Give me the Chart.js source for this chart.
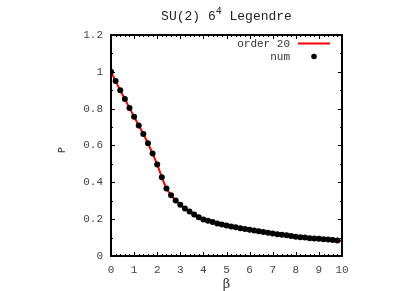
<!DOCTYPE html>
<html>
<head>
<meta charset="utf-8">
<script src="https://cdn.jsdelivr.net/npm/chart.js@4"></script>
<style>
html,body{margin:0;padding:0;background:#fff;}
#wrap{width:415px;height:291px;position:relative;}
</style>
</head>
<body>
<div id="wrap"><canvas id="c" width="415" height="291"></canvas></div>
<script>
// ---- data ----
const betaNum = [0,0.2,0.4,0.6,0.8,1.0,1.2,1.4,1.6,1.8,2.0,2.2,2.4,2.6,2.8,3.0,3.2,3.4,3.6,3.8,
                 4.0,4.2,4.4,4.6,4.8,5.0,5.2,5.4,5.6,5.8,6.0,6.2,6.4,6.6,6.8,7.0,7.2,7.4,7.6,7.8,
                 8.0,8.2,8.4,8.6,8.8,9.0,9.2,9.4,9.6,9.8];
const pNum = [1.000,0.950,0.900,0.852,0.804,0.756,0.709,0.662,0.612,0.556,0.497,0.428,0.367,0.330,0.301,0.278,0.258,0.241,0.225,0.211,
              0.198,0.191,0.184,0.177,0.171,0.166,0.160,0.156,0.151,0.146,0.142,0.138,0.134,0.130,0.126,0.122,0.118,0.115,0.112,0.108,
              0.105,0.102,0.100,0.097,0.095,0.093,0.091,0.089,0.087,0.084];
const betaOrder = [0,0.2,0.4,0.6,0.8,1.0,1.2,1.4,1.6,1.8,2.0,2.2,2.4,2.6,2.8,3.0,3.5,4.0,4.5,5.0,5.5,6.0,6.5,7.0,7.5,8.0,8.5,9.0,9.5,10.0];
const pOrder = [1.000,0.950,0.900,0.852,0.804,0.756,0.709,0.662,0.612,0.556,0.497,0.428,0.367,0.330,0.301,0.278,0.232,0.198,0.180,0.166,0.153,0.142,0.132,0.122,0.113,0.105,0.098,0.093,0.088,0.082];
const xTicks = [0,1,2,3,4,5,6,7,8,9,10];
const yTicks = [0,0.2,0.4,0.6,0.8,1,1.2];
const titleMain = "SU(2) 6";
const titleSup = "4";
const titleRest = " Legendre";
const seriesNames = ["order 20", "num"];
const xLabel = "\u03b2";
const yLabel = "P";

const MONO = '"Liberation Mono", "DejaVu Sans Mono", monospace';

const framePlugin = {
  id: 'frame',
  afterDatasetsDraw(chart) {
    const {ctx, chartArea: a, scales} = chart;
    const xs = scales.x, ys = scales.y;
    ctx.save();
    ctx.strokeStyle = '#000';
    // ticks
    ctx.lineWidth = 1;
    ctx.beginPath();
    const majLen = 4, minLen = 2;
    for (let i = 0; i <= 50; i++) {
      const v = i * 0.2;
      const px = Math.round(xs.getPixelForValue(v)) + 0.5;
      const len = (i % 5 === 0) ? majLen : minLen;
      ctx.moveTo(px, a.bottom); ctx.lineTo(px, a.bottom - len);
      ctx.moveTo(px, a.top); ctx.lineTo(px, a.top + len);
    }
    for (let i = 0; i <= 12; i++) {
      const v = i * 0.1;
      const py = Math.round(ys.getPixelForValue(v)) + 0.5;
      const len = (i % 2 === 0) ? majLen : minLen;
      ctx.moveTo(a.left, py); ctx.lineTo(a.left + len, py);
      ctx.moveTo(a.right, py); ctx.lineTo(a.right - len, py);
    }
    ctx.stroke();
    // frame
    ctx.lineWidth = 2;
    ctx.strokeRect(a.left, a.top, a.right - a.left, a.bottom - a.top);

    // title with superscript
    ctx.fillStyle = '#222';
    ctx.textBaseline = 'alphabetic';
    ctx.font = '13px ' + MONO;
    const w1 = ctx.measureText(titleMain).width;
    const w3 = ctx.measureText(titleRest).width;
    ctx.font = '10px ' + MONO;
    const w2 = ctx.measureText(titleSup).width;
    const total = w1 + w2 + w3;
    let tx = (a.left + a.right) / 2 - total / 2;
    const ty = 20;
    ctx.textAlign = 'left';
    ctx.font = '13px ' + MONO;
    ctx.fillText(titleMain, tx, ty);
    ctx.font = '10px ' + MONO;
    ctx.fillText(titleSup, tx + w1, ty - 6);
    ctx.font = '13px ' + MONO;
    ctx.fillText(titleRest, tx + w1 + w2, ty);

    // legend
    ctx.font = '11px ' + MONO;
    ctx.fillStyle = '#333';
    ctx.textAlign = 'right';
    ctx.textBaseline = 'middle';
    ctx.fillText(seriesNames[0], 290, 44);
    ctx.fillText(seriesNames[1], 290, 57);
    ctx.strokeStyle = '#ff0000';
    ctx.lineWidth = 2;
    ctx.beginPath(); ctx.moveTo(298, 43.5); ctx.lineTo(330, 43.5); ctx.stroke();
    ctx.fillStyle = '#000';
    ctx.beginPath(); ctx.arc(314, 56.5, 2.8, 0, Math.PI * 2); ctx.fill();

    // axis titles
    ctx.fillStyle = '#333';
    ctx.textAlign = 'center';
    ctx.textBaseline = 'middle';
    ctx.font = '13px "DejaVu Serif", serif';
    ctx.fillText(xLabel, (a.left + a.right) / 2, 285);
    ctx.save();
    ctx.translate(62, 150);
    ctx.rotate(-Math.PI / 2);
    ctx.font = '10px ' + MONO;
    ctx.fillText(yLabel, 0, 0);
    ctx.restore();
    ctx.restore();
  }
};

new Chart(document.getElementById('c'), {
  type: 'scatter',
  data: {
    datasets: [
      {
        label: seriesNames[1],
        data: betaNum.map((b, i) => ({x: b, y: pNum[i]})),
        showLine: false,
        pointRadius: 3,
        pointBackgroundColor: '#000',
        pointBorderColor: '#000',
        pointBorderWidth: 0,
        order: 0
      },
      {
        label: seriesNames[0],
        data: betaOrder.map((b, i) => ({x: b, y: pOrder[i]})),
        showLine: true,
        borderColor: '#ff0000',
        borderWidth: 2,
        pointRadius: 0,
        cubicInterpolationMode: 'monotone',
        order: 1
      }
    ]
  },
  options: {
    responsive: false,
    animation: false,
    events: [],
    layout: {padding: {top: 35, right: 73, left: 0, bottom: 0}},
    plugins: {legend: {display: false}, title: {display: false}, tooltip: {enabled: false}},
    scales: {
      x: {
        type: 'linear', min: 0, max: 10,
        afterBuildTicks: s => { s.ticks = xTicks.map(v => ({value: v})); },
        afterFit: s => { s.height = 35; },
        grid: {display: false, drawTicks: false},
        border: {display: false},
        ticks: {
          color: '#444', padding: 7, maxRotation: 0, autoSkip: false,
          font: {family: MONO, size: 11},
          callback: v => String(v)
        }
      },
      y: {
        type: 'linear', min: 0, max: 1.2,
        afterBuildTicks: s => { s.ticks = yTicks.map(v => ({value: v})); },
        afterFit: s => { s.width = 111; },
        grid: {display: false, drawTicks: false},
        border: {display: false},
        ticks: {
          color: '#444', padding: 8, autoSkip: false,
          font: {family: MONO, size: 11},
          callback: v => String(Math.round(v * 10) / 10)
        }
      }
    }
  },
  plugins: [framePlugin]
});
</script>
</body>
</html>
